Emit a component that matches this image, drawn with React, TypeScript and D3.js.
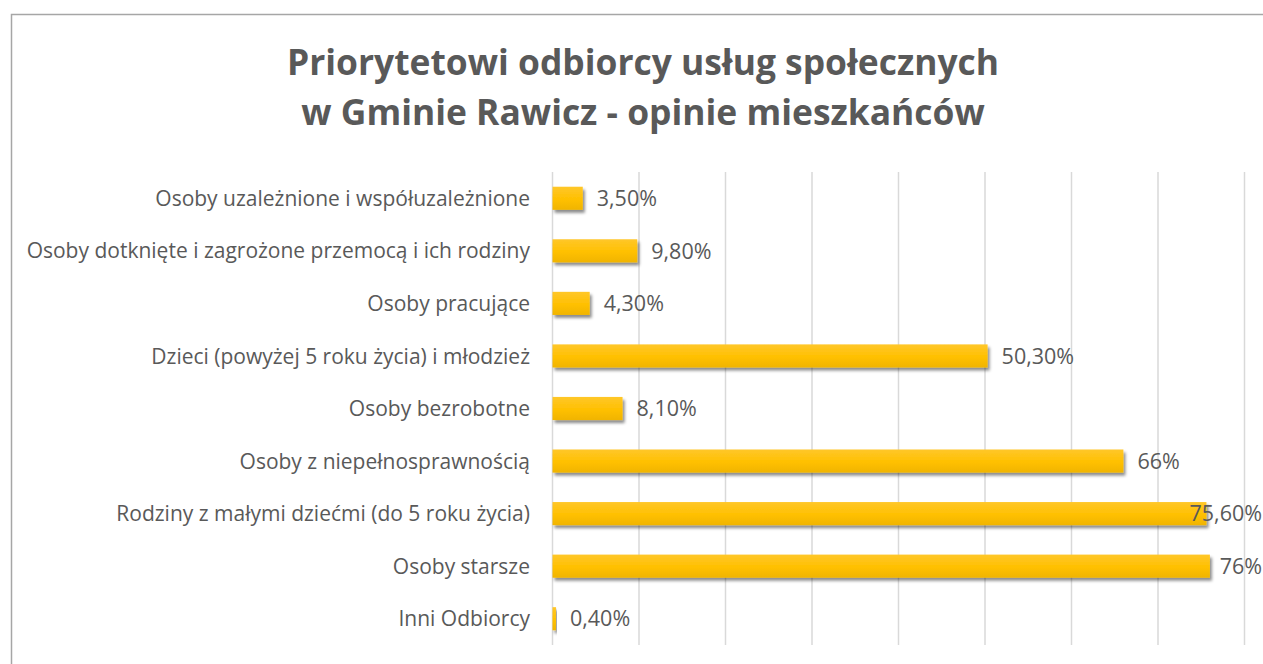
import { useEffect, useRef } from 'react'
import * as d3 from 'd3'

const categories = [
  'Osoby uzależnione i współuzależnione',
  'Osoby dotknięte i zagrożone przemocą i ich rodziny',
  'Osoby pracujące',
  'Dzieci (powyżej 5 roku życia) i młodzież',
  'Osoby bezrobotne',
  'Osoby z niepełnosprawnością',
  'Rodziny z małymi dziećmi (do 5 roku życia)',
  'Osoby starsze',
  'Inni Odbiorcy',
]
const values = [3.5, 9.8, 4.3, 50.3, 8.1, 66, 75.6, 76, 0.4]
const valueLabels = ['3,50%', '9,80%', '4,30%', '50,30%', '8,10%', '66%', '75,60%', '76%', '0,40%']
const gridTicks = [0, 10, 20, 30, 40, 50, 60, 70, 80]
const titleLines = ['Priorytetowi odbiorcy usług społecznych', 'w Gminie Rawicz - opinie mieszkańców']

const W = 1263
const H = 664
const FONT = '"Open Sans", Lato, sans-serif'

export default function App() {
  const svgRef = useRef<SVGSVGElement>(null)

  useEffect(() => {
    const svg = d3.select(svgRef.current)
    svg.selectAll('*').remove()

    const defs = svg.append('defs')
    const grad = defs
      .append('linearGradient')
      .attr('id', 'barGrad')
      .attr('x1', 0)
      .attr('y1', 0)
      .attr('x2', 0)
      .attr('y2', 1)
    grad.append('stop').attr('offset', '0%').attr('stop-color', '#ffc72a')
    grad.append('stop').attr('offset', '55%').attr('stop-color', '#ffc000')
    grad.append('stop').attr('offset', '100%').attr('stop-color', '#f0b400')

    const filt = defs
      .append('filter')
      .attr('id', 'shadow')
      .attr('x', '-10%')
      .attr('y', '-30%')
      .attr('width', '130%')
      .attr('height', '190%')
    filt
      .append('feDropShadow')
      .attr('dx', 2)
      .attr('dy', 3)
      .attr('stdDeviation', 1.8)
      .attr('flood-color', '#000')
      .attr('flood-opacity', 0.45)

    svg.append('rect').attr('width', W).attr('height', H).attr('fill', '#fff')

    // chart border (runs off the right and bottom edges)
    svg
      .append('rect')
      .attr('x', 11.5)
      .attr('y', 14.5)
      .attr('width', W + 20)
      .attr('height', H + 20)
      .attr('fill', 'none')
      .attr('stroke', '#a6a6a6')
      .attr('stroke-width', 1.5)

    const x = d3.scaleLinear().domain([0, 80]).range([552.5, 1244.5])
    const y = d3
      .scaleBand()
      .domain(categories)
      .range([172, 645])
      .paddingInner(0.56)
      .paddingOuter(0.28)

    // gridlines
    svg
      .append('g')
      .selectAll('line')
      .data(gridTicks)
      .join('line')
      .attr('x1', (d) => x(d))
      .attr('x2', (d) => x(d))
      .attr('y1', 172)
      .attr('y2', 645)
      .attr('stroke', '#d9d9d9')
      .attr('stroke-width', 1.5)

    // title
    svg
      .append('g')
      .selectAll('text')
      .data(titleLines)
      .join('text')
      .attr('x', 643)
      .attr('y', (_, i) => 75 + i * 50)
      .attr('text-anchor', 'middle')
      .attr('font-family', FONT)
      .attr('font-weight', 700)
      .attr('font-size', 35.4)
      .attr('fill', '#595959')
      .text((d) => d)

    // bars
    svg
      .append('g')
      .selectAll('rect')
      .data(values)
      .join('rect')
      .attr('x', x(0))
      .attr('y', (_, i) => y(categories[i])!)
      .attr('width', (d) => x(d) - x(0))
      .attr('height', y.bandwidth())
      .attr('fill', 'url(#barGrad)')
      .attr('filter', 'url(#shadow)')

    // category labels
    svg
      .append('g')
      .selectAll('text')
      .data(categories)
      .join('text')
      .attr('x', 530)
      .attr('y', (d) => y(d)! + y.bandwidth() / 2)
      .attr('dy', '0.36em')
      .attr('text-anchor', 'end')
      .attr('font-family', FONT)
      .attr('font-size', 21)
      .attr('fill', '#595959')
      .text((d) => d)

    // value labels, pulled back inside when they would run past the edge
    svg
      .append('g')
      .selectAll('text')
      .data(values)
      .join('text')
      .attr('y', (_, i) => y(categories[i])! + y.bandwidth() / 2)
      .attr('dy', '0.36em')
      .attr('font-family', FONT)
      .attr('font-size', 21.5)
      .attr('fill', '#595959')
      .text((_, i) => valueLabels[i])
      .attr('x', function (d) {
        const len = (this as SVGTextElement).getComputedTextLength()
        return Math.min(x(d) + 14, W - 1 - len)
      })
  }, [])

  return (
    <svg
      ref={svgRef}
      width={W}
      height={H}
      style={{ position: 'fixed', left: 0, top: 0, display: 'block' }}
    />
  )
}
